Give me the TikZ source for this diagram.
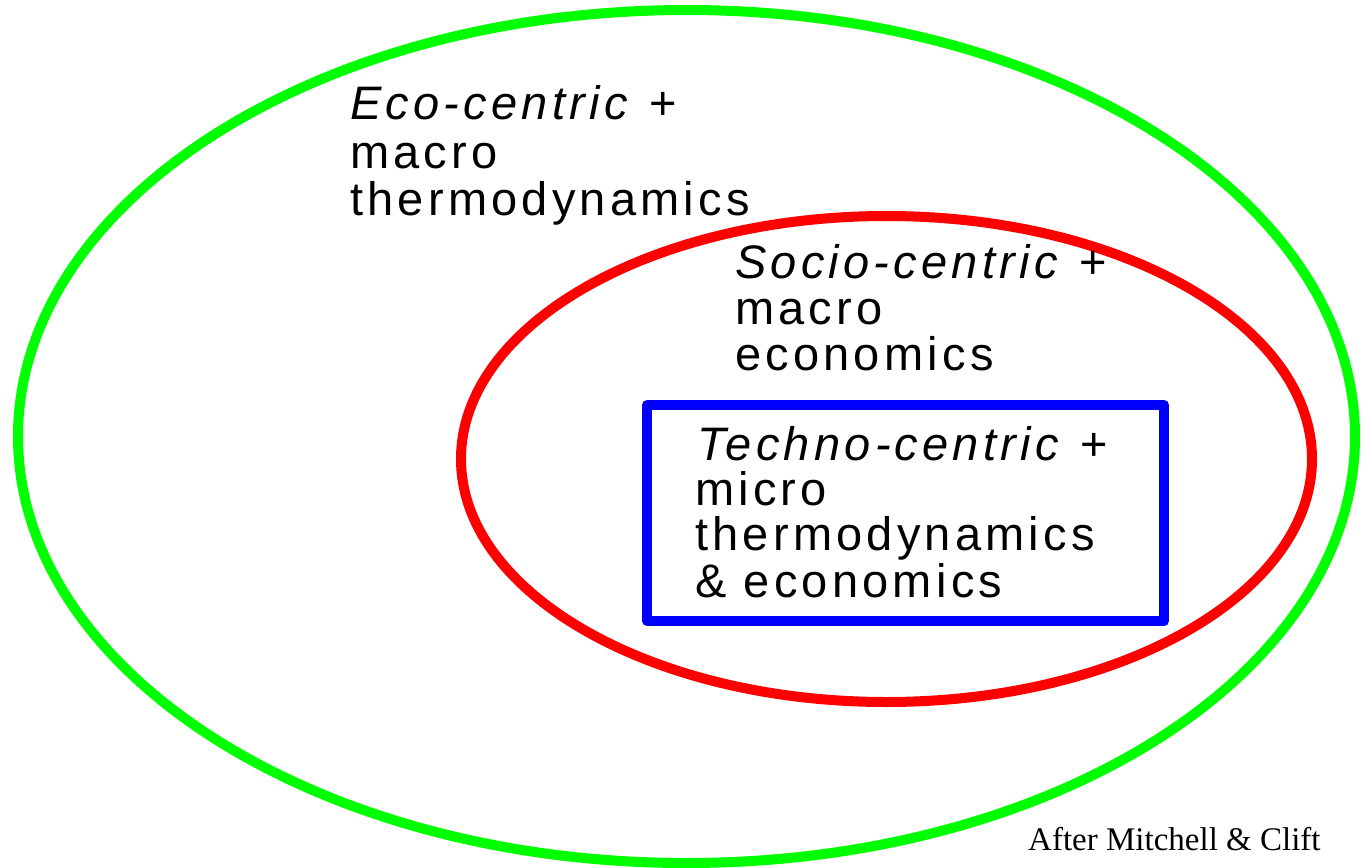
\documentclass[tikz,border=0pt]{standalone}
\usepackage{fontspec}
\setmainfont{Liberation Serif}
\newfontfamily\labelfont[LetterSpace=9]{Liberation Sans}
\definecolor{ringgreen}{RGB}{0,255,0}
\definecolor{ringred}{RGB}{255,0,0}
\definecolor{boxblue}{RGB}{0,0,255}
\begin{document}
\begin{tikzpicture}[x=1pt,y=-1pt,
  ring/.style={line width=10pt},
  lbl/.style={anchor=base west, inner sep=0pt, font=\labelfont\fontsize{47}{48}\selectfont},
  credit/.style={anchor=base west, inner sep=0pt, font=\fontsize{33}{38}\selectfont}]
\useasboundingbox (0,0) rectangle (1361,868);
\fill[white] (0,0) rectangle (1361,868);
% rings
\draw[ring, draw=ringgreen] (686.5,436.5) ellipse [x radius=668.5pt, y radius=426.5pt];
\draw[ring, draw=ringred] (886.5,459) ellipse [x radius=425.5pt, y radius=243pt];
\draw[ring, draw=boxblue, line join=round] (647,405) rectangle (1164,621);
% eco-centric
\node[lbl] (eco1) at (350,119) {\textit{Eco-centric} +};
\node[lbl] (eco2) at (350,168) {macro};
\node[lbl] (eco3) at (350,215) {thermodynamics};
% socio-centric
\node[lbl] (soc1) at (735,278) {\textit{Socio-centric} +};
\node[lbl] (soc2) at (735,324) {macro};
\node[lbl] (soc3) at (735,370) {economics};
% techno-centric
\node[lbl] (tec1) at (697,460) {\textit{Techno-centric} +};
\node[lbl] (tec2) at (695,505) {micro};
\node[lbl] (tec3) at (695,550) {thermodynamics};
\node[lbl] (tec4) at (695,597) {\& economics};
% credit
\node[credit] (cred) at (1028,850) {After Mitchell \& Clift};
\end{tikzpicture}
\end{document}
